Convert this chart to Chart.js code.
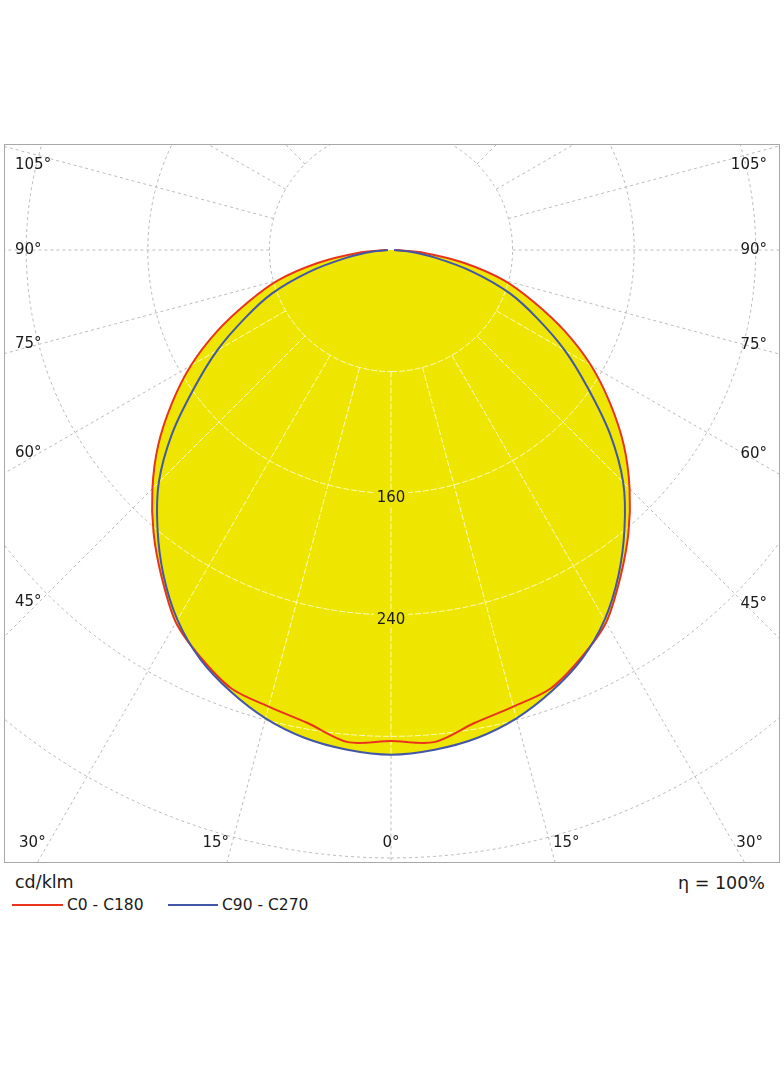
<!DOCTYPE html>
<html>
<head>
<meta charset="utf-8">
<script src="https://cdn.jsdelivr.net/npm/chart.js@4.4.1/dist/chart.umd.min.js"></script>
<style>
  body{margin:0;background:#fff;width:784px;height:1066px;position:relative;font-family:"DejaVu Sans",sans-serif;color:#1a1a1a;overflow:hidden}
  #frame{position:absolute;left:4px;top:144px;width:774px;height:717px;border:1px solid #a8a8a8}
  #c{display:block}
  .t{position:absolute;white-space:nowrap;line-height:20px}
  .ln{position:absolute;height:2px}
</style>
</head>
<body>
<div id="frame"><canvas id="c" width="774" height="717"></canvas></div>
<div class="t" style="left:15px;top:872px;font-size:17.5px">cd/klm</div>
<div class="t" style="right:19px;top:873px;font-size:17.5px">η = 100%</div>
<div class="ln" style="left:12px;top:904px;width:51px;background:#e8341c"></div>
<div class="t" style="left:67px;top:895px;font-size:15.5px">C0 - C180</div>
<div class="ln" style="left:168px;top:904px;width:50px;background:#4357a8"></div>
<div class="t" style="left:222px;top:895px;font-size:15.5px">C90 - C270</div>
<script>
// ---- data (cd/klm) ----
const gammaDeg = [0,5,10,15,20,25,30,35,40,45,50,55,60,65,70,75,80,85,90];
const c0c180   = [323,325,316,311,307,296,283,263,243,222,200,176,152,126,100,77,49,22,3];
const c90c270  = [332,330,326,319,309,297,281,261,239,216,188,158,132,106,83,56,30,12,2];
const ringValues = [80,160,240,320,400,480];
const ringLabels = [160,240];
const spokeAngles = [0,15,30,45,60,75,90,105,120,135,150,165,180];
const sideAngleLabels = [105,90,75,60,45];
const bottomAngleLabels = [-30,-15,0,15,30];

// ---- layout constants ----
const W = 774, H = 717, OX = 386, OY = 105, PX_PER_CD = 1.52;
const YELLOW = '#efe600';
const rad = d => d * Math.PI / 180;

function curvePoints(vals){
  const pts = [];
  for (let i = gammaDeg.length - 1; i >= 0; i--) {
    const g = rad(gammaDeg[i]);
    pts.push({x: -vals[i] * Math.sin(g), y: -vals[i] * Math.cos(g)});
  }
  for (let i = 1; i < gammaDeg.length; i++) {
    const g = rad(gammaDeg[i]);
    pts.push({x: vals[i] * Math.sin(g), y: -vals[i] * Math.cos(g)});
  }
  return pts;
}

function gridPoints(){
  const pts = [];
  ringValues.forEach(v => {
    for (let a = 0; a <= 360; a += 2) pts.push({x: v * Math.sin(rad(a)), y: -v * Math.cos(rad(a))});
    pts.push({x: null, y: null});
  });
  spokeAngles.forEach(a => {
    [-1, 1].forEach(side => {
      if ((a === 0 || a === 180) && side === 1) return;
      pts.push({x: side * ringValues[0] * Math.sin(rad(a)), y: -ringValues[0] * Math.cos(rad(a))});
      pts.push({x: side * 1000 * Math.sin(rad(a)), y: -1000 * Math.cos(rad(a))});
      pts.push({x: null, y: null});
    });
  });
  return pts;
}

const grid = gridPoints();

const compositePlugin = {
  id: 'composite',
  beforeDatasetDraw(chart, args) {
    const op = chart.data.datasets[args.index].composite;
    if (op) { chart.ctx.save(); chart.ctx.globalCompositeOperation = op; }
  },
  afterDatasetDraw(chart, args) {
    if (chart.data.datasets[args.index].composite) chart.ctx.restore();
  }
};

const labelPlugin = {
  id: 'polarLabels',
  afterDatasetsDraw(chart) {
    const ctx = chart.ctx, xs = chart.scales.x, ys = chart.scales.y;
    const {left, right, top, bottom} = chart.chartArea;
    const ox = xs.getPixelForValue(0), oy = ys.getPixelForValue(0);
    ctx.save();
    ctx.font = '15px "DejaVu Sans"';
    ctx.fillStyle = '#1a1a1a';
    ctx.textBaseline = 'middle';
    sideAngleLabels.forEach(a => {
      const cot = Math.cos(rad(a)) / Math.sin(rad(a));
      let yl = Math.max(top + 20, oy + (ox - left - 34) * cot);
      ctx.textAlign = 'left';
      ctx.fillText(a + '°', left + 10, yl);
      let yr = Math.max(top + 20, oy + (right - ox - 34) * cot);
      ctx.textAlign = 'right';
      ctx.fillText(a + '°', right - 12, yr);
    });
    const yb = bottom - 19;
    bottomAngleLabels.forEach(a => {
      const xl = ox + (yb - oy) * Math.tan(rad(a));
      if (a < 0) { ctx.textAlign = 'right'; ctx.fillText(Math.abs(a) + '°', xl - 3, yb); }
      else if (a > 0) { ctx.textAlign = 'left'; ctx.fillText(a + '°', xl + 3, yb); }
      else { ctx.textAlign = 'center'; ctx.fillText('0°', ox, yb); }
    });
    ctx.textAlign = 'center';
    ringLabels.forEach(v => {
      const y = ys.getPixelForValue(-v) + 5;
      const w = ctx.measureText(String(v)).width + 6;
      ctx.fillStyle = YELLOW;
      ctx.fillRect(ox - w / 2, y - 8, w, 16);
      ctx.fillStyle = '#1a1a1a';
      ctx.fillText(String(v), ox, y);
    });
    ctx.restore();
  }
};

const common = {pointRadius: 0, pointHoverRadius: 0, spanGaps: false};

new Chart(document.getElementById('c'), {
  type: 'line',
  data: {
    datasets: [
      Object.assign({label: 'gridPale', data: grid, borderColor: 'rgba(255,255,215,0.85)', borderWidth: 1,
        borderDash: [6, 2], fill: false, tension: 0, order: 10, composite: 'source-atop'}, common),
      Object.assign({label: 'gridGrey', data: grid, borderColor: '#bcbcbc', borderWidth: 1,
        borderDash: [3, 3], fill: false, tension: 0, order: 9, composite: 'destination-over'}, common),
      Object.assign({label: 'C0 - C180', data: curvePoints(c0c180), borderColor: '#e8341c', borderWidth: 2,
        backgroundColor: YELLOW, fill: 'shape', tension: 0.3, order: 2}, common),
      Object.assign({label: 'C90 - C270', data: curvePoints(c90c270), borderColor: '#4357a8', borderWidth: 2,
        backgroundColor: YELLOW, fill: 'shape', tension: 0.3, order: 1}, common)
    ]
  },
  options: {
    responsive: false,
    animation: false,
    events: [],
    layout: {padding: 0},
    scales: {
      x: {type: 'linear', display: false, min: -OX / PX_PER_CD, max: (W - OX) / PX_PER_CD},
      y: {type: 'linear', display: false, min: -(H - OY) / PX_PER_CD, max: OY / PX_PER_CD}
    },
    plugins: {
      legend: {display: false},
      tooltip: {enabled: false},
      filler: {drawTime: 'beforeDatasetsDraw'}
    }
  },
  plugins: [compositePlugin, labelPlugin]
});
</script>
</body>
</html>
